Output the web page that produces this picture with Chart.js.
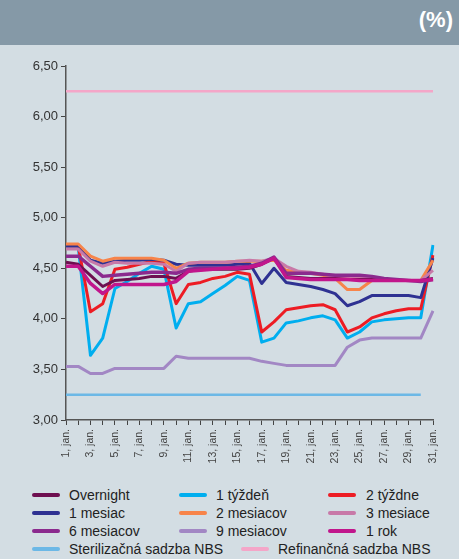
<!DOCTYPE html>
<html>
<head>
<meta charset="utf-8">
<script src="https://cdn.jsdelivr.net/npm/chart.js@4"></script>
<style>
    body { margin: 0; width: 459px; height: 559px; background: #d3dde3; font-family: 'Liberation Sans', Arial, sans-serif; overflow: hidden; position: relative; }
    .header { position: absolute; left: 0; top: 0; width: 459px; height: 45px; background: #8599a7; }
    .header span { position: absolute; right: 6px; top: 7px; color: #fff; font-weight: bold; font-size: 22px; }
    .chart-box { position: absolute; left: 0; top: 45px; width: 459px; height: 435px; }
    .leg { position: absolute; font-size: 14px; color: #222; white-space: nowrap; line-height: 16px; }
    .leg i { position: absolute; top: 6px; width: 28px; height: 4px; border-radius: 2px; }
</style>
</head>
<body>
<div class="header"><span>(%)</span></div>
<div class="chart-box"><canvas id="rateChart"></canvas></div>
<div id="legend"></div>
<script>
// --- Data (January, %) ---
const days = Array.from({ length: 31 }, (_, i) => `${i + 1}, jan.`);

const overnight = [4.56, 4.54, 4.43, 4.32, 4.38, 4.39, 4.40, 4.42, 4.42, 4.40, 4.47, 4.49, 4.49, 4.49, 4.49, 4.50, 4.54, 4.60, 4.42, 4.41, 4.40, 4.40, 4.40, 4.39, 4.39, 4.39, 4.38, 4.38, 4.38, 4.38, 4.40];
const week1 = [4.70, 4.71, 3.64, 3.81, 4.30, 4.37, 4.45, 4.52, 4.49, 3.91, 4.15, 4.17, 4.25, 4.33, 4.42, 4.38, 3.77, 3.81, 3.96, 3.98, 4.01, 4.03, 3.99, 3.81, 3.87, 3.97, 3.99, 4.00, 4.01, 4.01, 4.73];
const week2 = [4.72, 4.72, 4.07, 4.15, 4.49, 4.51, 4.54, 4.57, 4.55, 4.15, 4.34, 4.36, 4.40, 4.42, 4.46, 4.44, 3.87, 3.97, 4.09, 4.11, 4.13, 4.14, 4.09, 3.87, 3.92, 4.01, 4.05, 4.08, 4.10, 4.10, 4.63];
const month1 = [4.72, 4.72, 4.58, 4.55, 4.57, 4.58, 4.58, 4.59, 4.58, 4.54, 4.53, 4.53, 4.53, 4.53, 4.54, 4.55, 4.35, 4.50, 4.36, 4.34, 4.32, 4.29, 4.25, 4.13, 4.17, 4.23, 4.23, 4.23, 4.23, 4.21, 4.60];
const month2 = [4.74, 4.74, 4.62, 4.57, 4.60, 4.60, 4.60, 4.60, 4.58, 4.50, 4.55, 4.56, 4.56, 4.56, 4.57, 4.57, 4.57, 4.58, 4.48, 4.46, 4.45, 4.43, 4.40, 4.29, 4.29, 4.38, 4.39, 4.38, 4.38, 4.38, 4.58];
const month3 = [4.69, 4.69, 4.57, 4.52, 4.56, 4.55, 4.55, 4.55, 4.54, 4.47, 4.55, 4.56, 4.56, 4.56, 4.57, 4.58, 4.57, 4.60, 4.52, 4.47, 4.46, 4.44, 4.42, 4.41, 4.40, 4.40, 4.39, 4.39, 4.38, 4.38, 4.48];
const month6 = [4.62, 4.62, 4.52, 4.42, 4.43, 4.44, 4.45, 4.46, 4.46, 4.45, 4.49, 4.50, 4.50, 4.50, 4.51, 4.52, 4.55, 4.61, 4.45, 4.45, 4.45, 4.44, 4.43, 4.43, 4.43, 4.42, 4.40, 4.39, 4.38, 4.37, 4.39];
const month9 = [3.53, 3.53, 3.46, 3.46, 3.51, 3.51, 3.51, 3.51, 3.51, 3.63, 3.61, 3.61, 3.61, 3.61, 3.61, 3.61, 3.58, 3.56, 3.54, 3.54, 3.54, 3.54, 3.54, 3.72, 3.79, 3.81, 3.81, 3.81, 3.81, 3.81, 4.08];
const year1 = [4.52, 4.52, 4.35, 4.25, 4.34, 4.34, 4.34, 4.34, 4.34, 4.37, 4.47, 4.48, 4.49, 4.50, 4.50, 4.51, 4.54, 4.60, 4.41, 4.40, 4.39, 4.39, 4.39, 4.39, 4.38, 4.38, 4.38, 4.38, 4.38, 4.38, 4.39];
const sterilRate = [3.25, 3.25, 3.25, 3.25, 3.25, 3.25, 3.25, 3.25, 3.25, 3.25, 3.25, 3.25, 3.25, 3.25, 3.25, 3.25, 3.25, 3.25, 3.25, 3.25, 3.25, 3.25, 3.25, 3.25, 3.25, 3.25, 3.25, 3.25, 3.25, 3.25, null];
const refiRate = Array(31).fill(6.25);

const yTicks = [3.00, 3.50, 4.00, 4.50, 5.00, 5.50, 6.00, 6.50];

// label, data, colour, width, draw order (lower = on top), legend slot [left, top, textLeft]
const series = [
    ['Overnight', overnight, '#6e0f50', 3, 2, [32, 487, 69]],
    ['1 týždeň', week1, '#00aeef', 3, 7, [179, 487, 216]],
    ['2 týždne', week2, '#ed1c24', 3, 6, [328, 487, 366]],
    ['1 mesiac', month1, '#2e3192', 3, 5, [32, 505, 69]],
    ['2 mesiacov', month2, '#f7844a', 3, 4, [179, 505, 216]],
    ['3 mesiace', month3, '#c879a8', 3, 3, [328, 505, 366]],
    ['6 mesiacov', month6, '#8b2a8e', 3.5, 1, [32, 523, 69]],
    ['9 mesiacov', month9, '#a287c4', 3, 8, [179, 523, 216]],
    ['1 rok', year1, '#c1168c', 3.5, 0, [328, 523, 366]],
    ['Sterilizačná sadzba NBS', sterilRate, '#6cb8e6', 2.5, 9, [32, 541, 69]],
    ['Refinančná sadzba NBS', refiRate, '#f4a6c8', 2.5, 10, [241, 541, 278]]
];

document.addEventListener('DOMContentLoaded', () => {
    Chart.defaults.font.family = "'Liberation Sans', Arial, sans-serif";
    Chart.defaults.color = '#333';

    const ctx = document.getElementById('rateChart').getContext('2d');
    new Chart(ctx, {
        type: 'line',
        data: {
            labels: days,
            datasets: series.map(s => ({
                label: s[0],
                data: s[1],
                borderColor: s[2],
                backgroundColor: s[2],
                borderWidth: s[3],
                order: s[4],
                pointRadius: 0,
                tension: 0,
                borderJoinStyle: 'round',
                fill: false
            }))
        },
        options: {
            responsive: true,
            maintainAspectRatio: false,
            animation: false,
            layout: { padding: { top: 21, right: 26, left: 0, bottom: 0 } },
            plugins: { legend: { display: false }, tooltip: { enabled: false } },
            scales: {
                x: {
                    offset: false,
                    grid: { drawOnChartArea: false, drawTicks: true, tickLength: 5, color: '#444', lineWidth: 1 },
                    border: { color: '#555', width: 1.5 },
                    ticks: {
                        autoSkip: false,
                        maxRotation: 90,
                        minRotation: 90,
                        padding: 4,
                        font: { size: 10.5 },
                        color: '#444',
                        callback: (val, i) => (i % 2 === 0 ? days[i] : '')
                    },
                    afterFit: (scale) => { scale.height = 60; }
                },
                y: {
                    min: 3,
                    max: 6.5,
                    afterBuildTicks: (scale) => { scale.ticks = yTicks.map(v => ({ value: v })); },
                    grid: { drawOnChartArea: false, drawTicks: true, tickLength: 5, color: '#444', lineWidth: 1 },
                    border: { color: '#555', width: 1.5 },
                    ticks: {
                        padding: 3,
                        font: { size: 13 },
                        color: '#333',
                        callback: (v) => v.toFixed(2).replace('.', ',')
                    },
                    afterFit: (scale) => { scale.width = 66; }
                }
            }
        }
    });

    // --- Legend (HTML, three columns) ---
    const legend = document.getElementById('legend');
    series.forEach(s => {
        const [left, top, textLeft] = s[5];
        const item = document.createElement('div');
        item.className = 'leg';
        item.style.left = left + 'px';
        item.style.top = top + 'px';
        item.innerHTML = `<i style="left:0;background:${s[2]}"></i><span style="position:absolute;left:${textLeft - left}px;top:0">${s[0]}</span>`;
        legend.appendChild(item);
    });
});
</script>
</body>
</html>
